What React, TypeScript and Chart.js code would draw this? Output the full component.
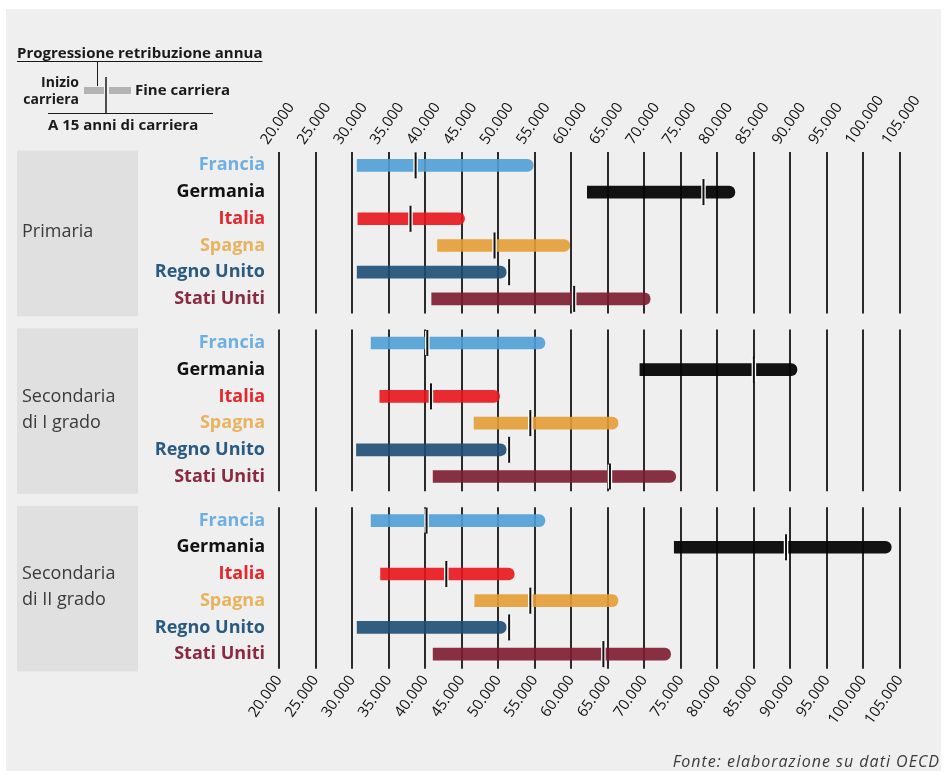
import React, { useEffect, useRef } from 'react';
import { Chart, registerables } from 'chart.js';

Chart.register(...registerables);

// ---------- DATA ----------
const countries = ['Francia', 'Germania', 'Italia', 'Spagna', 'Regno Unito', 'Stati Uniti'];
const levelLabels = [['Primaria'], ['Secondaria', 'di I grado'], ['Secondaria', 'di II grado']];
const tickValues = [20000, 25000, 30000, 35000, 40000, 45000, 50000, 55000, 60000, 65000, 70000, 75000, 80000, 85000, 90000, 95000, 100000, 105000];

// Primaria
const inizioPrimaria = [30700, 62200, 30800, 41700, 30700, 40900];
const quindiciPrimaria = [38700, 78100, 38000, 49500, 51500, 60400];
const finePrimaria = [54800, 82400, 45400, 59800, 51100, 70800];
// Secondaria di I grado
const inizioSec1 = [32600, 69400, 33800, 46700, 30600, 41100];
const quindiciSec1 = [40300, 85000, 40800, 54400, 51500, 65300];
const fineSec1 = [56400, 90900, 50200, 66400, 51100, 74300];
// Secondaria di II grado
const inizioSec2 = [32600, 74100, 33900, 46800, 30700, 41100];
const quindiciSec2 = [40200, 89400, 42900, 54400, 51500, 64400];
const fineSec2 = [56400, 103800, 52200, 66400, 51100, 73600];

const barColors = ['rgba(79,159,213,0.9)', 'rgba(5,5,5,0.95)', 'rgba(232,20,28,0.9)', 'rgba(228,156,52,0.9)', 'rgba(29,75,115,0.9)', 'rgba(123,27,47,0.9)'];
const labelColors = ['#6db0e0', '#111111', '#e8242c', '#e8b35e', '#2a5a80', '#8a2a40'];

const inizio = [inizioPrimaria, inizioSec1, inizioSec2];
const quindici = [quindiciPrimaria, quindiciSec1, quindiciSec2];
const fine = [finePrimaria, fineSec1, fineSec2];

const GROUP_STEP = 6.65;
const rowValues: number[] = [];
levelLabels.forEach((_, g) => countries.forEach((_, r) => rowValues.push(g * GROUP_STEP + r)));

const fmt = (v: number) => {
  const k = Math.floor(v / 1000);
  const r = Math.round(v % 1000);
  return `${k}.${String(r).padStart(3, '0')}`;
};

const FONT = '"Open Sans", "DejaVu Sans", sans-serif';

// plot frame (pixels)
const AREA = { left: 279, right: 900, top: 152, bottom: 668 };

const decorPlugin = {
  id: 'decor',
  afterLayout(chart: any) {
    const ca = chart.chartArea;
    ca.left = AREA.left; ca.right = AREA.right; ca.top = AREA.top; ca.bottom = AREA.bottom;
    ca.width = AREA.right - AREA.left; ca.height = AREA.bottom - AREA.top;
    const { x, x2, y } = chart.scales;
    [x, x2].forEach((s: any) => {
      s.left = AREA.left; s.right = AREA.right; s.width = AREA.right - AREA.left;
    });
    x.top = 0; x.bottom = AREA.top; x.height = AREA.top;
    x2.top = AREA.bottom; x2.bottom = chart.height; x2.height = chart.height - AREA.bottom;
    y.left = 0; y.right = AREA.left; y.width = AREA.left;
    y.top = AREA.top; y.bottom = AREA.bottom; y.height = AREA.bottom - AREA.top;
    [x, x2, y].forEach((s: any) => s.configure());
  },
  beforeDraw(chart: any) {
    const { ctx, width, height } = chart;
    const y = chart.scales.y;
    ctx.save();
    ctx.fillStyle = '#ffffff';
    ctx.fillRect(0, 0, width, height);
    ctx.fillStyle = '#efefef';
    ctx.fillRect(6, 9, width - 12, height - 16);
    levelLabels.forEach((lines, g) => {
      const top = y.getPixelForValue(g * GROUP_STEP - 0.55);
      const bot = y.getPixelForValue(g * GROUP_STEP + 5.65);
      ctx.fillStyle = '#e0e0e0';
      ctx.fillRect(17, top, 121, bot - top);
      const cy = y.getPixelForValue(g * GROUP_STEP + 2.5);
      ctx.fillStyle = '#3a3a3a';
      ctx.font = `18px ${FONT}`;
      ctx.textAlign = 'left';
      ctx.textBaseline = 'middle';
      lines.forEach((t, i) => ctx.fillText(t, 22, cy + (i - (lines.length - 1) / 2) * 26));
    });
    ctx.restore();
  },
  beforeDatasetsDraw(chart: any) {
    const { ctx } = chart;
    const x = chart.scales.x;
    const y = chart.scales.y;
    ctx.save();
    ctx.strokeStyle = '#151515';
    ctx.lineWidth = 1.8;
    levelLabels.forEach((_, g) => {
      const top = y.getPixelForValue(g * GROUP_STEP - 0.5);
      const bot = y.getPixelForValue(g * GROUP_STEP + 5.55);
      x.ticks.forEach((t: any) => {
        const px = Math.round(x.getPixelForValue(t.value));
        ctx.beginPath();
        ctx.moveTo(px, top);
        ctx.lineTo(px, bot);
        ctx.stroke();
      });
    });
    ctx.restore();
  },
  afterDraw(chart: any) {
    const { ctx } = chart;
    ctx.save();
    // Legend
    ctx.fillStyle = '#1a1a1a';
    ctx.strokeStyle = '#1a1a1a';
    ctx.font = `bold 15px ${FONT}`;
    ctx.textAlign = 'left';
    ctx.textBaseline = 'alphabetic';
    const title = 'Progressione retribuzione annua';
    ctx.fillText(title, 17, 58);
    const w = ctx.measureText(title).width;
    ctx.lineWidth = 1;
    ctx.beginPath();
    ctx.moveTo(17, 61.5);
    ctx.lineTo(17 + w, 61.5);
    ctx.stroke();
    ctx.beginPath();
    ctx.moveTo(97.5, 62);
    ctx.lineTo(97.5, 86);
    ctx.stroke();
    ctx.fillStyle = '#b3b3b3';
    ctx.fillRect(84, 87, 20, 7);
    ctx.fillRect(109, 87, 22, 7);
    ctx.lineWidth = 1.5;
    ctx.beginPath();
    ctx.moveTo(106, 77);
    ctx.lineTo(106, 113);
    ctx.stroke();
    ctx.lineWidth = 1;
    ctx.beginPath();
    ctx.moveTo(48, 113.5);
    ctx.lineTo(213, 113.5);
    ctx.stroke();
    ctx.fillStyle = '#1a1a1a';
    ctx.font = `bold 14px ${FONT}`;
    ctx.textAlign = 'right';
    ctx.textBaseline = 'middle';
    ctx.fillText('Inizio', 79, 83);
    ctx.fillText('carriera', 79, 100);
    ctx.textAlign = 'left';
    ctx.font = `bold 15px ${FONT}`;
    ctx.fillText('Fine carriera', 135, 91);
    ctx.fillText('A 15 anni di carriera', 48, 126);
    // Footer
    ctx.font = `italic 16px ${FONT}`;
    (ctx as any).letterSpacing = '1px';
    ctx.fillStyle = '#3a3a3a';
    ctx.textAlign = 'right';
    ctx.textBaseline = 'alphabetic';
    ctx.fillText('Fonte: elaborazione su dati OECD', 940, 767);
    ctx.restore();
  },
};

export default function App() {
  const ref = useRef<HTMLCanvasElement | null>(null);

  useEffect(() => {
    if (!ref.current) return;

    const barDatasets = countries.map((c, i) => ({
      type: 'bar' as const,
      label: c,
      indexAxis: 'y' as const,
      grouped: false,
      data: levelLabels.map((_, g) => ({ y: g * GROUP_STEP + i, x: [inizio[g][i], fine[g][i]] })),
      backgroundColor: barColors[i],
      borderWidth: 0,
      borderRadius: 6,
      borderSkipped: 'start' as const,
      barThickness: 12,
      order: 3,
    }));

    const markerData: { x: number; y: number }[] = [];
    levelLabels.forEach((_, g) => countries.forEach((_, i) => markerData.push({ x: quindici[g][i], y: g * GROUP_STEP + i })));

    const haloDataset = {
      type: 'scatter' as const,
      label: 'halo',
      data: markerData,
      pointStyle: 'line' as const,
      rotation: 90,
      pointRadius: 12,
      pointBorderWidth: 4.5,
      pointBorderColor: '#ffffff',
      pointBackgroundColor: '#ffffff',
      order: 2,
    };
    const markerDataset = {
      type: 'scatter' as const,
      label: 'A 15 anni di carriera',
      data: markerData,
      pointStyle: 'line' as const,
      rotation: 90,
      pointRadius: 13,
      pointBorderWidth: 2,
      pointBorderColor: '#111111',
      pointBackgroundColor: '#111111',
      order: 1,
    };

    const xTicks = {
      autoSkip: false,
      minRotation: 55,
      maxRotation: 55,
      padding: 4,
      font: { family: FONT, size: 15 },
      color: '#111111',
      callback: (v: any) => fmt(Number(v)),
    };

    const chart = new Chart(ref.current, {
      type: 'bar',
      data: { datasets: [...barDatasets, haloDataset, markerDataset] as any },
      options: {
        animation: false,
        responsive: false,
        maintainAspectRatio: false,
        events: [],
        layout: { autoPadding: false, padding: { left: 0, right: 47, top: 0, bottom: 0 } },
        plugins: { legend: { display: false }, tooltip: { enabled: false }, title: { display: false } },
        scales: {
          x: {
            type: 'linear',
            position: 'top',
            offset: false,
            min: 20000,
            max: 105000,
            afterBuildTicks: (s: any) => { s.ticks = tickValues.map((v) => ({ value: v })); },
            ticks: xTicks,
            grid: { display: false, drawTicks: false, offset: false },
            border: { display: false },
            afterFit: (s: any) => { s.height = 152; },
          },
          x2: {
            type: 'linear',
            position: 'bottom',
            offset: false,
            min: 20000,
            max: 105000,
            afterBuildTicks: (s: any) => { s.ticks = tickValues.map((v) => ({ value: v })); },
            ticks: xTicks,
            grid: { display: false, drawTicks: false, offset: false },
            border: { display: false },
            afterFit: (s: any) => { s.height = 110; },
          },
          y: {
            type: 'linear',
            reverse: true,
            offset: false,
            min: -0.5,
            max: 18.82,
            afterBuildTicks: (s: any) => { s.ticks = rowValues.map((v) => ({ value: v })); },
            ticks: {
              autoSkip: false,
              padding: 14,
              font: { family: FONT, size: 18, weight: 'bold' },
              color: (ctx: any) => labelColors[ctx.index % 6],
              callback: (_v: any, i: number) => countries[i % 6],
            },
            grid: { display: false, drawTicks: false },
            border: { display: false },
            afterFit: (s: any) => { s.width = 279; },
          },
        },
      } as any,
      plugins: [decorPlugin],
    });

    return () => chart.destroy();
  }, []);

  return (
    <div style={{ position: 'absolute', left: 0, top: 0, width: 947, height: 778 }}>
      <canvas ref={ref} width={947} height={778} style={{ width: 947, height: 778, display: 'block' }} />
    </div>
  );
}
